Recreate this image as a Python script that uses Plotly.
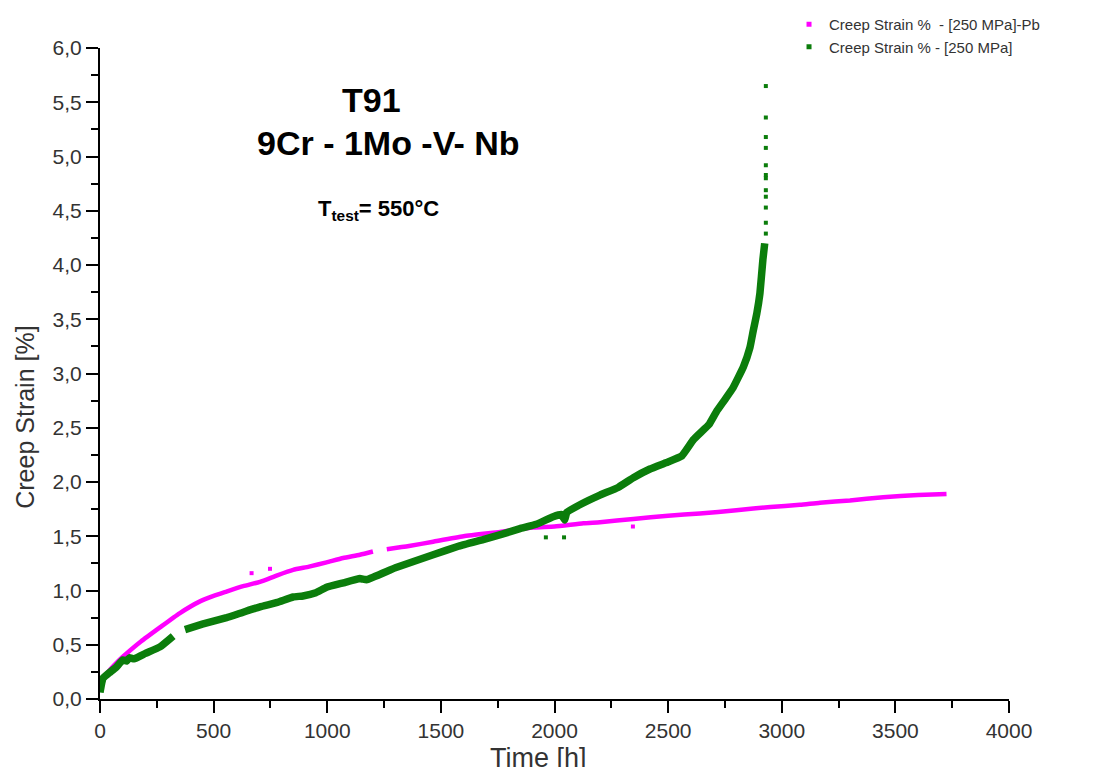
import plotly.graph_objects as go

# ---- data ----
# Pb environment (magenta)
pink_t = [0, 15, 44, 80, 117, 180, 264, 350, 440, 500, 557, 630, 704, 780, 850, 920, 997, 1070, 1144, 1201,
          None, 1262, 1360, 1466, 1600, 1760, 1906, 2000, 2127, 2200, 2347, 2500, 2640, 2800, 2950, 3080, 3168, 3300, 3446, 3600, 3725]
pink_s = [0.12, 0.19, 0.27, 0.35, 0.42, 0.53, 0.66, 0.79, 0.90, 0.95, 0.99, 1.04, 1.08, 1.14, 1.19, 1.22, 1.26, 1.30, 1.33, 1.36,
          None, 1.38, 1.41, 1.45, 1.50, 1.54, 1.58, 1.59, 1.62, 1.63, 1.66, 1.69, 1.71, 1.74, 1.77, 1.79, 1.81, 1.83, 1.86, 1.88, 1.89]
pink_out_t = [667, 748, 2345]
pink_out_s = [1.16, 1.20, 1.59]

# Air (green)
green_t = [0, 5, 13, 40, 70, 101, 117, 130, 150, 200, 264, 322,
           None, 374, 450, 557, 630, 704, 780, 850, 893, 950, 997, 1070, 1144, 1173, 1300, 1466, 1580, 1686,
           1770, 1848, 1920, 1994, 2030, 2045, 2054, 2120, 2200, 2280, 2347, 2420, 2493, 2560, 2611, 2640,
           2680, 2713, 2750, 2786, 2831, 2860, 2875, 2890, 2904, 2917, 2925]
green_s = [0.06, 0.12, 0.19, 0.24, 0.29, 0.36, 0.35, 0.38, 0.37, 0.42, 0.48, 0.58,
           None, 0.64, 0.69, 0.75, 0.80, 0.85, 0.89, 0.94, 0.95, 0.98, 1.03, 1.07, 1.11, 1.10, 1.21, 1.33, 1.41, 1.47,
           1.52, 1.57, 1.61, 1.68, 1.70, 1.65, 1.72, 1.80, 1.88, 1.95, 2.04, 2.12, 2.18, 2.24, 2.39, 2.45,
           2.53, 2.65, 2.76, 2.87, 3.06, 3.24, 3.40, 3.55, 3.74, 4.05, 4.20]
green_dot_t = [2930, 2930, 2930, 2930, 2930, 2930, 2930, 2930, 2930, 2930, 2930, 2930, 1962, 2042]
green_dot_s = [4.29, 4.39, 4.53, 4.63, 4.69, 4.80, 4.83, 4.92, 5.08, 5.18, 5.36, 5.65, 1.49, 1.49]

y_ticks = [0, 0.5, 1.0, 1.5, 2.0, 2.5, 3.0, 3.5, 4.0, 4.5, 5.0, 5.5, 6.0]
y_labels = ["0,0", "0,5", "1,0", "1,5", "2,0", "2,5", "3,0", "3,5", "4,0", "4,5", "5,0", "5,5", "6,0"]
x_ticks = [0, 500, 1000, 1500, 2000, 2500, 3000, 3500, 4000]
x_labels = ["0", "500", "1000", "1500", "2000", "2500", "3000", "3500", "4000"]

PINK = "#FF00FF"
GREEN = "#0B7D0B"
FONT = "Liberation Sans, Arial, sans-serif"
TXT = "#333333"

fig = go.Figure()
# legend entries
fig.add_trace(go.Scatter(x=[None], y=[None], mode="markers", name="Creep Strain %  - [250 MPa]-Pb",
                         marker=dict(color=PINK, size=5, symbol="square"), legendgroup="pb"))
fig.add_trace(go.Scatter(x=[None], y=[None], mode="markers", name="Creep Strain % - [250 MPa]",
                         marker=dict(color=GREEN, size=5, symbol="square"), legendgroup="air"))
# pink data
fig.add_trace(go.Scatter(x=pink_t, y=pink_s, mode="lines", line=dict(color=PINK, width=4.5, shape="spline", smoothing=0.5),
                         showlegend=False, legendgroup="pb", connectgaps=False))
fig.add_trace(go.Scatter(x=pink_out_t, y=pink_out_s, mode="markers",
                         marker=dict(color=PINK, size=4, symbol="square"), showlegend=False, legendgroup="pb"))
# green data
fig.add_trace(go.Scatter(x=green_t, y=green_s, mode="lines", line=dict(color=GREEN, width=7.5, shape="spline", smoothing=0.3),
                         showlegend=False, legendgroup="air", connectgaps=False))
fig.add_trace(go.Scatter(x=green_dot_t, y=green_dot_s, mode="markers",
                         marker=dict(color=GREEN, size=4, symbol="square"), showlegend=False, legendgroup="air"))

fig.update_layout(
    width=1099, height=767,
    margin=dict(l=92, r=98, t=0, b=76),
    paper_bgcolor="white", plot_bgcolor="white",
    font=dict(family=FONT, color=TXT),
    legend=dict(x=0.758, y=1.0, xanchor="left", yanchor="top", bgcolor="rgba(0,0,0,0)",
                font=dict(size=15, color=TXT), itemwidth=30, tracegroupgap=0),
    xaxis=dict(range=[0, 4000], tickvals=x_ticks, ticktext=x_labels, showgrid=False, zeroline=False,
               automargin=False,
               showline=True, linecolor="black", linewidth=2, ticks="outside", ticklen=12, tickwidth=2,
               tickcolor="black", tickfont=dict(family=FONT, size=21, color=TXT),
               minor=dict(ticks="outside", ticklen=7, tickwidth=2, tickcolor="black", dtick=250)),
    yaxis=dict(range=[0, 6], domain=[0, 0.942], tickvals=y_ticks, ticktext=y_labels, showgrid=False, zeroline=False,
               automargin=False,
               showline=True, linecolor="black", linewidth=2, ticks="outside", ticklen=12, tickwidth=2,
               tickcolor="black", tickfont=dict(family=FONT, size=21, color=TXT),
               minor=dict(ticks="outside", ticklen=7, tickwidth=2, tickcolor="black", dtick=0.25)),
    annotations=[
        dict(text="<b>T91</b>", x=0.299, y=0.867, xref="paper", yref="paper", xanchor="center", yanchor="middle",
             showarrow=False, font=dict(family=FONT, size=34, color="black")),
        dict(text="<b>9Cr - 1Mo -V- Nb</b>", x=0.317, y=0.805, xref="paper", yref="paper", xanchor="center",
             yanchor="middle", showarrow=False, font=dict(family=FONT, size=34, color="black")),
        dict(text="<b>T<sub>test</sub>= 550°C</b>", x=0.306, y=0.708, xref="paper", yref="paper", xanchor="center",
             yanchor="middle", showarrow=False, font=dict(family=FONT, size=22, color="black")),
        dict(text="Creep Strain [%]", x=-0.0825, y=0.407, xref="paper", yref="paper", xanchor="center",
             yanchor="middle", textangle=-90, showarrow=False, font=dict(family=FONT, size=25, color=TXT)),
        dict(text="Time [h]", x=0.482, y=-0.086, xref="paper", yref="paper", xanchor="center",
             yanchor="middle", showarrow=False, font=dict(family=FONT, size=27, color=TXT)),
    ],
)

fig.write_html("out.html")
